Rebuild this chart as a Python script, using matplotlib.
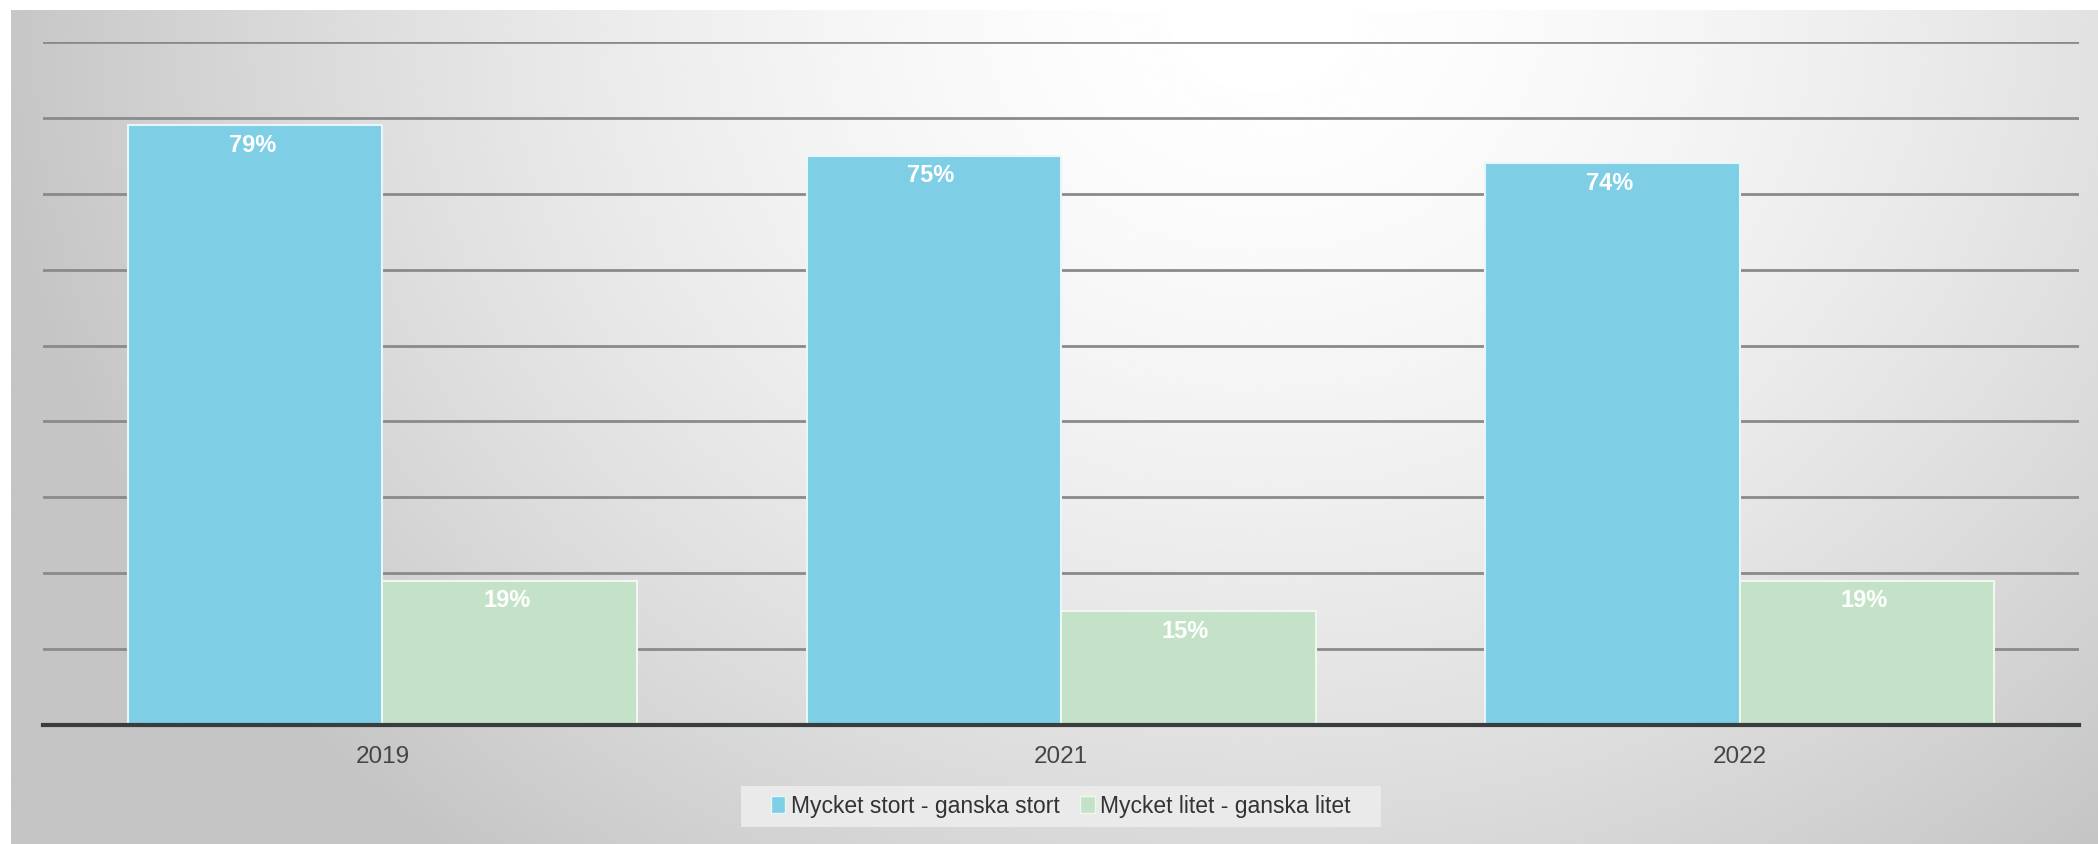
import numpy as np
import matplotlib.pyplot as plt
from matplotlib.patches import Patch, Rectangle

# Data
years = ['2019', '2021', '2022']
stort = [79, 75, 74]
litet = [19, 15, 19]
serie_namn = ['Mycket stort - ganska stort', 'Mycket litet - ganska litet']

blue = '#7ecee6'
green = '#c4e2c8'

plt.rcParams['font.family'] = ['Liberation Sans', 'DejaVu Sans']

W, H = 2098, 844
fig = plt.figure(figsize=(W / 100, H / 100), dpi=100)
fig.patch.set_facecolor('white')

# Bakgrund: radiell gradient, ljus uppe i mitten
bg = fig.add_axes([11 / W, 0, 1 - 11 / W, 1 - 10 / H], zorder=0)
yy, xx = np.mgrid[0:1:300j, 0:1:700j]
r = np.sqrt(((xx - 0.6) / 0.58) ** 2 + ((yy - 0.0) / 1.25) ** 2)
shade = np.clip(1.0 - 0.21 * r ** 1.6, 0.77, 1.0)
bg.imshow(shade, cmap='gray', vmin=0, vmax=1, aspect='auto',
          extent=[0, 1, 1, 0], interpolation='bicubic')
bg.set_axis_off()

ax = fig.add_axes([43 / W, (H - 725) / H, (2079 - 43) / W, (725 - 42) / H], zorder=1)
ax.set_facecolor('none')

x = np.arange(len(years))
w = 0.375
b1 = ax.bar(x - w / 2, stort, w, color=blue, edgecolor='#e6f6fb', linewidth=1.5, zorder=3)
b2 = ax.bar(x + w / 2, litet, w, color=green, edgecolor='#eef8ef', linewidth=1.5, zorder=3)

# Värden inne i staplarna
for bars, vals in [(b1, stort), (b2, litet)]:
    for rect, v in zip(bars, vals):
        ax.annotate(f'{v}%', (rect.get_x() + rect.get_width() / 2, v),
                    xytext=(-2, -14.5), textcoords='offset points',
                    ha='center', va='center', color='white',
                    fontsize=17, fontweight='bold', zorder=4)

ax.set_xlim(-0.5, 2.5)
ax.set_ylim(0, 90)
ax.set_yticks(np.arange(10, 91, 10))
ax.yaxis.grid(True, color='#8a8a8a', linewidth=2, zorder=1)
ax.set_axisbelow(True)
ax.tick_params(axis='y', left=False, labelleft=False)
ax.set_xticks(x)
ax.set_xticklabels(years, fontsize=17.5, color='#454545')
ax.tick_params(axis='x', length=0, pad=15)
for s in ['top', 'right', 'left']:
    ax.spines[s].set_visible(False)
ax.spines['bottom'].set_color('#3a3d3d')
ax.spines['bottom'].set_linewidth(3)
ax.spines['bottom'].set_zorder(5)

# Legendruta
fig.patches.append(Rectangle((741 / W, 17 / H), 640 / W, 41 / H,
                             transform=fig.transFigure, facecolor='#eaeaea',
                             edgecolor='none', zorder=2))
handles = [Patch(facecolor=blue, edgecolor='#e6f6fb'),
           Patch(facecolor=green, edgecolor='#eef8ef')]
leg = fig.legend(handles, serie_namn, loc='center', bbox_to_anchor=(1061 / W, 1 - 806 / H),
                 ncol=2, fontsize=16.5, frameon=False,
                 handlelength=0.62, handleheight=0.7, handletextpad=0.25,
                 columnspacing=0.9)
leg.set_zorder(3)
for t in leg.get_texts():
    t.set_color('#333333')

fig.savefig('out.png', dpi=100)
